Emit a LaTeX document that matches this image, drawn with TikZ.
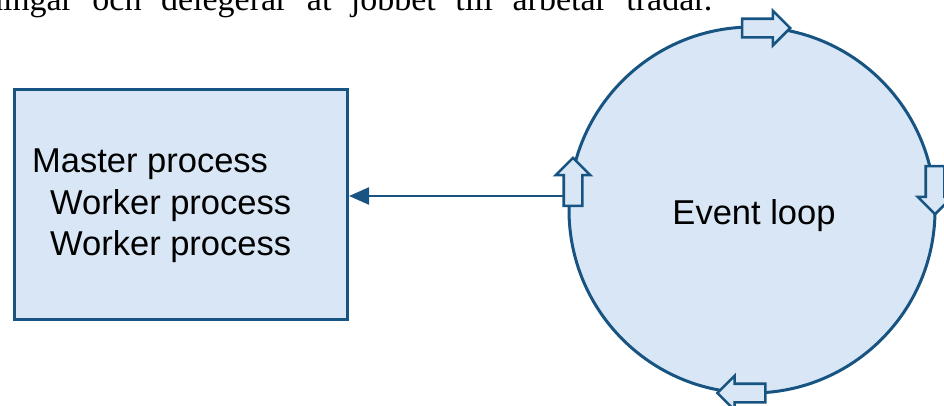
\documentclass[tikz,border=0pt]{standalone}
\usepackage{fontspec}
\setmainfont{Liberation Serif}
\newfontfamily\diagsans{Liberation Sans}
\usetikzlibrary{shapes.arrows,arrows.meta}
\definecolor{edgeblue}{RGB}{24,84,130}
\definecolor{fillblue}{RGB}{216,230,245}
\tikzset{
  shell/.style={draw=edgeblue, fill=fillblue, line width=3pt},
  procbox/.style={shell, rectangle, inner sep=0pt},
  loopring/.style={shell, circle, inner sep=0pt},
  lbl/.style={inner sep=0pt, font=\diagsans\fontsize{34.5}{40}\selectfont},
  flowmark/.style={draw=edgeblue, fill=fillblue, line width=2.6pt,
    single arrow, inner xsep=0pt, inner ysep=8pt,
    single arrow head extend=8pt, single arrow head indent=0pt,
    minimum height=48pt},
  conn/.style={draw=edgeblue, line width=2.3pt,
    -{Triangle[length=20pt,width=17pt]}},
}
\begin{document}
\begin{tikzpicture}[x=1pt,y=-1pt]
  \path[use as bounding box, clip] (0,0) rectangle (944,405);

  % sentence running in from the page above
  \node[anchor=base west, inner sep=0pt, font=\fontsize{34}{40}\selectfont]
    (intro) at (-14,10)
    {\makebox[726pt][s]{ningar och delegerar at jobbet till arbetar trådar.}};

  % process box
  \node[procbox, anchor=north west, minimum width=333pt, minimum height=230pt]
    (master) at (13,88) {};
  \node[lbl, anchor=base west] (t1) at (32,172) {Master process};
  \node[lbl, anchor=base west] (t2) at (50,214) {Worker process};
  \node[lbl, anchor=base west] (t3) at (50,255) {Worker process};

  % event loop ring
  \node[loopring, minimum size=366pt] (loop) at (752,210) {};
  \node[lbl, anchor=base] (looplbl) at (754,224) {Event loop};

  % connector from the ring to the box
  \coordinate (tap) at (564,196);
  \draw[conn] (tap) -- (master.east |- tap);

  % direction marks around the ring
  \node[flowmark] (mtop) at (761.5,28) {};
  \node[flowmark, rotate=90] (mleft) at (573,186.5) {};
  \node[flowmark, rotate=-90] (mright) at (935,185.5) {};
  \node[flowmark, rotate=180] (mbottom) at (746,393) {};
\end{tikzpicture}
\end{document}
